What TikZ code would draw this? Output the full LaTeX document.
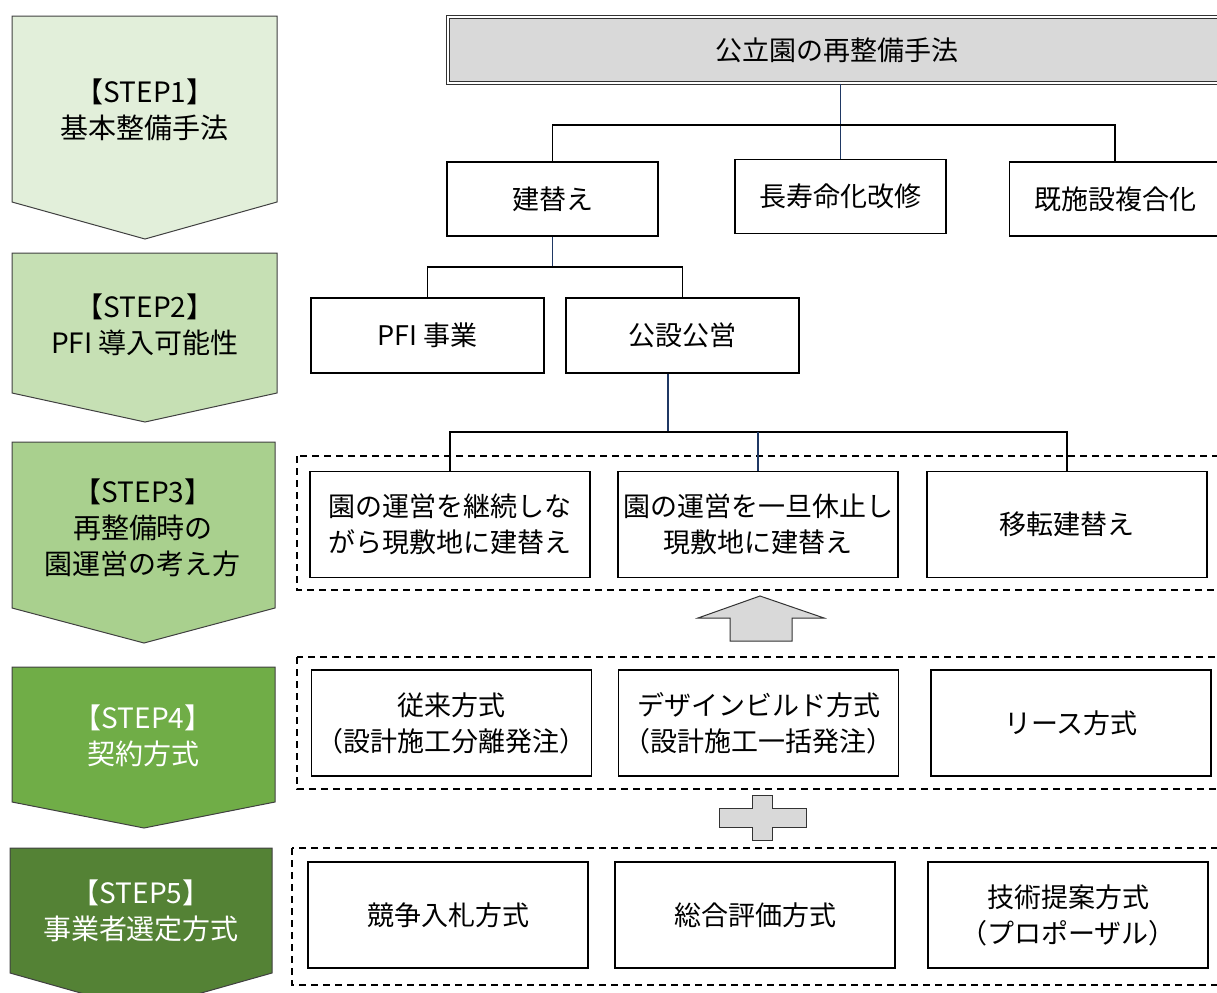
\documentclass[tikz,border=0pt]{standalone}
\usepackage{fontspec}
\setmainfont{Noto Sans CJK JP}
\usepackage{tikz}
\usetikzlibrary{positioning,calc}
\definecolor{stepone}{HTML}{E2EFDA}
\definecolor{steptwo}{HTML}{C6E0B4}
\definecolor{stepthree}{HTML}{A9D08E}
\definecolor{stepfour}{HTML}{70AD47}
\definecolor{stepfive}{HTML}{548235}
\definecolor{navyline}{HTML}{1F3864}
\definecolor{panelgray}{HTML}{D9D9D9}

\begin{document}
\begin{tikzpicture}[x=0.5pt,y=-0.5pt,
      every node/.style={font=\fontsize{13.5}{18}\selectfont, align=center, inner sep=0pt},
      chev/.style={draw=gray!50!black, line width=0.5pt},
      steptext/.style={font=\fontsize{14}{18}\selectfont},
      box/.style={draw, line width=0.9pt, fill=white},
      smallbox/.style={box, minimum width=105.5pt, minimum height=37pt},
      midbox/.style={box, minimum width=116.5pt, minimum height=37.5pt},
      wide/.style={box, minimum width=140pt, minimum height=53pt},
      group/.style={draw, line width=0.8pt, dash pattern=on 3.5pt off 2.5pt},
      link/.style={line width=0.8pt},
      stem/.style={draw=navyline, line width=0.8pt},
      blockarrow/.style={draw=gray!40!black, line width=0.5pt, fill=panelgray}]
  \useasboundingbox (0,0) rectangle (1217,992);

  % step chevrons on the left
  \filldraw[chev, fill=stepone]   (12,16)  -- (277,16)  -- (277,202) -- (145,239) -- (12,202) -- cycle;
  \filldraw[chev, fill=steptwo]   (12,253) -- (277,253) -- (277,393) -- (145,422) -- (12,393) -- cycle;
  \filldraw[chev, fill=stepthree] (12,442) -- (275,442) -- (275,608) -- (144,643) -- (12,608) -- cycle;
  \filldraw[chev, fill=stepfour]  (12,667) -- (275,667) -- (275,802) -- (144,828) -- (12,802) -- cycle;
  \filldraw[chev, fill=stepfive]  (10,848) -- (272,848) -- (272,973) -- (141,1010) -- (10,973) -- cycle;

  \node[steptext] (s1) at (145,110) {【STEP1】\\基本整備手法};
  \node[steptext] (s2) at (145,325) {【STEP2】\\PFI 導入可能性};
  \node[steptext] (s3) at (143,528) {【STEP3】\\再整備時の\\園運営の考え方};
  \node[steptext, text=white] (s4) at (143,736) {【STEP4】\\契約方式};
  \node[steptext, text=white] (s5) at (141,911) {【STEP5】\\事業者選定方式};

  % dashed groups
  \draw[group] (297,456) rectangle (1230,590);
  \draw[group] (297,657) rectangle (1230,789);
  \draw[group] (292,848) rectangle (1230,985);

  % top of the tree
  \node[draw=gray!40!black, double, double distance=1.2pt, line width=0.6pt, fill=panelgray,
        minimum width=389pt, minimum height=33pt] (root) at (837,50) {公立園の再整備手法};

  \node[smallbox] (rebuild) at (552.5,199) {建替え};
  \node[smallbox] (extend)  at (840.5,196.5) {長寿命化改修};
  \node[smallbox] (combine) at (1115,199) {既施設複合化};

  \node[midbox] (pfi)    at (427.5,335.5) {PFI 事業};
  \node[midbox] (public) at (682.5,335.5) {公設公営};

  \node[wide] (keep)  at (450,524.5)  {園の運営を継続しな\\がら現敷地に建替え};
  \node[wide] (pause) at (758,524.5)  {園の運営を一旦休止し\\現敷地に建替え};
  \node[wide] (move)  at (1067,524.5) {移転建替え};

  \node[wide] (conv)   at (451.5,723) {従来方式\\（設計施工分離発注）};
  \node[wide] (design) at (758.5,723) {デザインビルド方式\\（設計施工一括発注）};
  \node[wide] (lease)  at (1071,723)  {リース方式};

  \node[wide] (bid)   at (448,915)  {競争入札方式};
  \node[wide] (total) at (755,915)  {総合評価方式};
  \node[wide] (prop)  at (1068,915) {技術提案方式\\（プロポーザル）};

  % connectors
  \coordinate (bar1) at (840.5,125);
  \coordinate (bar2) at (552.5,267);
  \coordinate (bar3) at (758,432);
  \draw[stem] (root.south -| extend.north) -- (extend.north);
  \draw[link] (rebuild.north) |- (bar1) -| (combine.north);
  \draw[stem] (rebuild.south) -- (bar2);
  \draw[link] (pfi.north) |- (bar2) -| (public.north);
  \draw[stem] (public.south -| 668,0) -- (668,432);
  \draw[link] (keep.north) |- (bar3) -| (move.north);
  \draw[stem] (bar3) -- (pause.north);

  % block arrow and plus sign
  \filldraw[blockarrow] (760,596) -- (824,618) -- (792,618) -- (792,641) -- (730,641)
    -- (730,618) -- (698,618) -- cycle;
  \filldraw[blockarrow] (719,808) -- (752,808) -- (752,795) -- (772,795) -- (772,808) -- (806,808)
    -- (806,827) -- (772,827) -- (772,840) -- (752,840) -- (752,827) -- (719,827) -- cycle;
\end{tikzpicture}
\end{document}
